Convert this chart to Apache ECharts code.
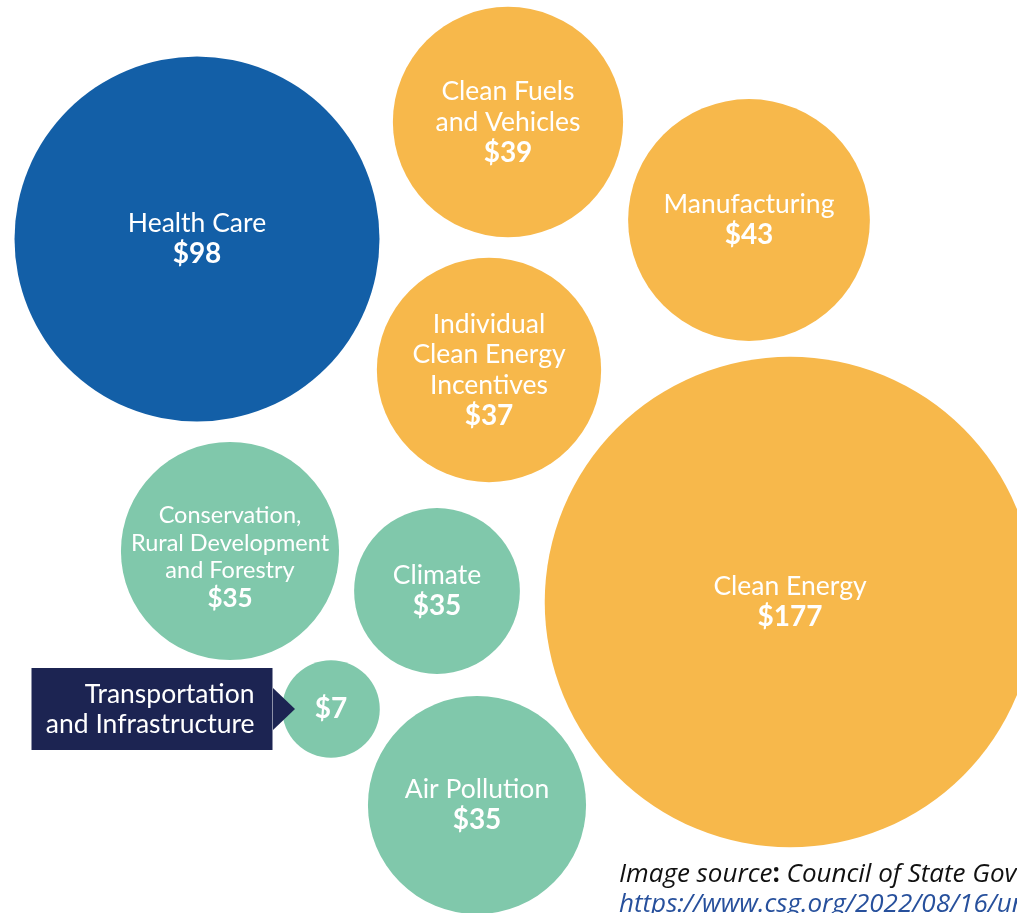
<!DOCTYPE html>
<html>
<head>
<meta charset="utf-8">
<script src="https://cdn.jsdelivr.net/npm/echarts@6/dist/echarts.min.js"></script>
<style>
  html, body { margin: 0; padding: 0; background: #fff; }
  #chart { width: 1017px; height: 913px; }
</style>
</head>
<body>
<div id="chart"></div>
<script>
// spending by category, billions of dollars
const categories = [
  'Health Care',
  'Clean Fuels\nand Vehicles',
  'Manufacturing',
  'Individual\nClean Energy\nIncentives',
  'Clean Energy',
  'Conservation,\nRural Development\nand Forestry',
  'Climate',
  'Transportation\nand Infrastructure',
  'Air Pollution'
]
const values = [98, 39, 43, 37, 177, 35, 35, 7, 35]
const groups = ['health', 'energy', 'energy', 'energy', 'energy', 'environment', 'environment', 'environment', 'environment']

// packed layout of bubble centres (layout units, 1017 x 913 space)
const layoutX = [197, 508, 749, 489, 790, 230, 437, 331, 477]
const layoutY = [239, 122, 220, 370, 602, 551, 591, 709, 805]
// the source draws Climate smaller than its value would give
const sizeAdjust = { 'Climate': 0.76 }
// labels set in a smaller type (and sitting a bit low) in the source
const smallLabels = ['Conservation,\nRural Development\nand Forestry']
// names shown in a callout box instead of inside the bubble
const calloutNames = ['Transportation\nand Infrastructure']

const groupColors = { health: '#135fa7', energy: '#f7b84b', environment: '#80c8ab' }
const calloutColor = '#1c2452'
const scaleK = 365 / Math.sqrt(98)

const chart = echarts.init(document.getElementById('chart'))

const bubbles = categories.map((name, i) => ({
  name,
  value: [layoutX[i], layoutY[i], values[i]],
  itemStyle: { color: groupColors[groups[i]] },
  label: smallLabels.includes(name) ? { offset: [0, 6] } : undefined
}))
const callouts = categories
  .map((name, i) => ({ name, value: [layoutX[i], layoutY[i], values[i]] }))
  .filter(d => calloutNames.includes(d.name))

const option = {
  animation: false,
  title: {
    left: 614,
    top: 855,
    itemGap: 4,
    text: '{t|Image source}{c|:}{t| Council of State Governments}',
    textStyle: {
      rich: {
        t: { fontFamily: 'Open Sans', fontStyle: 'italic', fontWeight: 'normal', fontSize: 26, color: '#111', lineHeight: 30 },
        c: { fontFamily: 'Open Sans', fontWeight: 'bold', fontSize: 26, color: '#111', lineHeight: 30 }
      }
    },
    subtext: 'https://www.csg.org/2022/08/16/understanding-the-inflation-reduction-act/',
    subtextStyle: { fontFamily: 'Open Sans', fontStyle: 'italic', fontSize: 26, color: '#27509c', lineHeight: 30 }
  },
  grid: { left: 0, right: 0, top: 0, bottom: 0 },
  xAxis: { type: 'value', min: 0, max: 1017, show: false },
  yAxis: { type: 'value', min: 0, max: 913, inverse: true, show: false },
  series: [
    {
      name: 'bubbles',
      type: 'scatter',
      data: bubbles,
      symbolSize: (val, p) => scaleK * Math.sqrt(val[2]) * (sizeAdjust[p.name] || 1),
      itemStyle: { opacity: 1 },
      label: {
        show: true,
        position: 'inside',
        fontFamily: 'Lato',
        formatter: p => {
          const s = smallLabels.includes(p.name) ? 's' : ''
          const v = '{v' + s + '|$' + p.value[2] + '}'
          if (calloutNames.includes(p.name)) return v
          return p.name.split('\n').map(t => '{n' + s + '|' + t + '}').join('\n') + '\n' + v
        },
        rich: {
          n: { fontFamily: 'Lato', fontSize: 26.5, color: '#fff', lineHeight: 30.5, align: 'center' },
          v: { fontFamily: 'Lato', fontSize: 28, fontWeight: 'bold', color: '#fff', lineHeight: 30.5, align: 'center' },
          ns: { fontFamily: 'Lato', fontSize: 23.5, color: '#fff', lineHeight: 27.5, align: 'center' },
          vs: { fontFamily: 'Lato', fontSize: 26, fontWeight: 'bold', color: '#fff', lineHeight: 27.5, align: 'center' }
        }
      },
      emphasis: { disabled: true }
    },
    {
      name: 'callout',
      type: 'scatter',
      data: callouts,
      symbolSize: 1,
      itemStyle: { color: 'rgba(0,0,0,0)', opacity: 1 },
      label: {
        show: true,
        position: 'left',
        distance: 58,
        formatter: '{b}',
        fontFamily: 'Lato',
        fontSize: 26.5,
        lineHeight: 30,
        color: '#fff',
        align: 'right',
        width: 203,
        backgroundColor: calloutColor,
        padding: [11, 18, 11, 20]
      },
      emphasis: { disabled: true }
    },
    {
      name: 'pointer',
      type: 'scatter',
      z: 5,
      data: callouts,
      symbol: 'triangle',
      symbolRotate: -90,
      symbolSize: [42, 22],
      symbolOffset: [-47, 0],
      itemStyle: { color: calloutColor, opacity: 1 },
      emphasis: { disabled: true }
    }
  ]
}
chart.setOption(option)
window.addEventListener('resize', () => chart.resize())
</script>
</body>
</html>
